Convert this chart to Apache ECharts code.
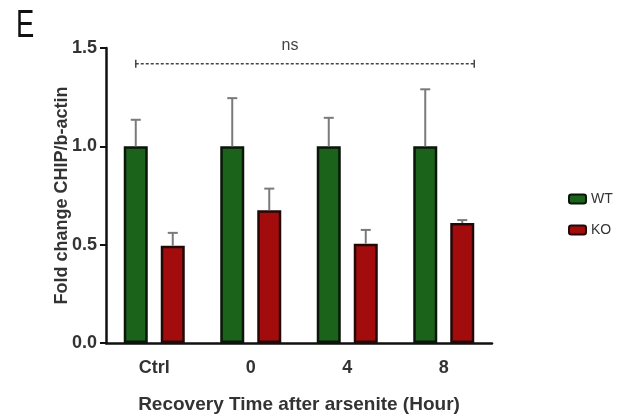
<!DOCTYPE html>
<html><head><meta charset="utf-8">
<script src="https://cdn.jsdelivr.net/npm/echarts@6/dist/echarts.min.js"></script>
<style>html,body{margin:0;padding:0;background:#fff}#c{width:635px;height:419px}</style>
</head><body><div id="c"></div>
<script>
var categories = ['Ctrl', '0', '4', '8'];
var wtValues = [1.0, 1.0, 1.0, 1.0];
var wtErrTop = [1.135, 1.245, 1.145, 1.29];
var koValues = [0.495, 0.675, 0.505, 0.61];
var koErrTop = [0.56, 0.785, 0.575, 0.625];
var yTicks = [0, 0.5, 1.0, 1.5];
var seriesNames = ['WT', 'KO'];
var nsLevel = 1.42;

var BAR_W = 24, BAR_GAP = 13;
var chart = echarts.init(document.getElementById('c'), null, {renderer: 'canvas'});

function errRender(offsetSign) {
  return function (params, api) {
    var i = api.value(0);
    var base = api.coord([i, api.value(1)]);
    var top = api.coord([i, api.value(2)]);
    var x = base[0] + offsetSign * (BAR_W + BAR_GAP) / 2;
    var style = {stroke: '#7a7a7a', lineWidth: 2};
    return {type: 'group', children: [
      {type: 'line', shape: {x1: x, y1: base[1], x2: x, y2: top[1]}, style: style},
      {type: 'line', shape: {x1: x - 5, y1: top[1], x2: x + 5, y2: top[1]}, style: style}
    ]};
  };
}

var labelFont = {fontFamily: 'Liberation Sans', fontWeight: 'bold', color: '#333', fontSize: 18};

chart.setOption({
  animation: false,
  backgroundColor: '#fff',
  grid: {left: 106, right: 143, top: 48, bottom: 76},
  legend: {
    orient: 'vertical', left: 563, top: 187, itemWidth: 17, itemHeight: 9, itemGap: 17,
    data: seriesNames,
    textStyle: {fontFamily: 'Liberation Sans', fontSize: 14, color: '#333'}
  },
  xAxis: {
    type: 'category', data: categories,
    name: 'Recovery Time after arsenite (Hour)', nameLocation: 'middle', nameGap: 52,
    nameTextStyle: {fontFamily: 'Liberation Sans', fontWeight: 'bold', color: '#333', fontSize: 19},
    axisLine: {lineStyle: {color: '#111', width: 2.5}},
    axisTick: {alignWithLabel: true, length: 7, lineStyle: {color: '#111', width: 2}},
    axisLabel: Object.assign({margin: 16}, labelFont)
  },
  yAxis: {
    type: 'value', min: 0, max: 1.5, interval: 0.5,
    name: 'Fold change CHIP/b-actin', nameLocation: 'middle', nameGap: 35, nameRotate: 90,
    nameMoveOverlap: false,
    nameTextStyle: {fontFamily: 'Liberation Sans', fontWeight: 'bold', color: '#333', fontSize: 18},
    splitLine: {show: false},
    axisLine: {show: true, lineStyle: {color: '#111', width: 2.5}},
    axisTick: {show: true, length: 6, lineStyle: {color: '#111', width: 2}},
    axisLabel: Object.assign({margin: 9, formatter: function (v) { return v.toFixed(1); }}, labelFont)
  },
  series: [
    {name: 'WT', type: 'bar', data: wtValues, barWidth: BAR_W, barGap: (BAR_GAP / BAR_W * 100) + '%',
     itemStyle: {color: '#1b621b', borderColor: '#0a160a', borderWidth: 2.5}, z: 2},
    {name: 'KO', type: 'bar', data: koValues, barWidth: BAR_W,
     itemStyle: {color: '#a30c0c', borderColor: '#240808', borderWidth: 2.5}, z: 2},
    {type: 'custom', renderItem: errRender(-1), z: 3,
     data: categories.map(function (c, i) { return [i, wtValues[i], wtErrTop[i]]; })},
    {type: 'custom', renderItem: errRender(1), z: 3,
     data: categories.map(function (c, i) { return [i, koValues[i], koErrTop[i]]; })}
  ]
});

// annotations: panel letter, ns bracket
var pStart = chart.convertToPixel({gridIndex: 0}, [0, nsLevel]);
var pEnd = chart.convertToPixel({gridIndex: 0}, [categories.length - 1, nsLevel]);
var x1 = pStart[0] - (BAR_W + BAR_GAP) / 2;
var x2 = pEnd[0] + (BAR_W + BAR_GAP) / 2 + BAR_W / 2;
var yb = pStart[1];
chart.setOption({
  graphic: [
    {type: 'text', x: 16, y: 8, scaleX: 0.72,
     style: {text: 'E', font: '38px "Liberation Sans"', fill: '#111', verticalAlign: 'top', textVerticalAlign: 'top'}},
    {type: 'line', shape: {x1: x1, y1: yb, x2: x2, y2: yb}, style: {stroke: '#444', lineWidth: 1.5, lineDash: [3, 2]}},
    {type: 'line', shape: {x1: x1, y1: yb - 4, x2: x1, y2: yb + 4}, style: {stroke: '#444', lineWidth: 1.5}},
    {type: 'line', shape: {x1: x2, y1: yb - 4, x2: x2, y2: yb + 4}, style: {stroke: '#444', lineWidth: 1.5}},
    {type: 'text', x: 290, y: yb - 26,
     style: {text: 'ns', font: '16px "Liberation Sans"', fill: '#444', align: 'center', textAlign: 'center'}}
  ]
});
</script></body></html>
